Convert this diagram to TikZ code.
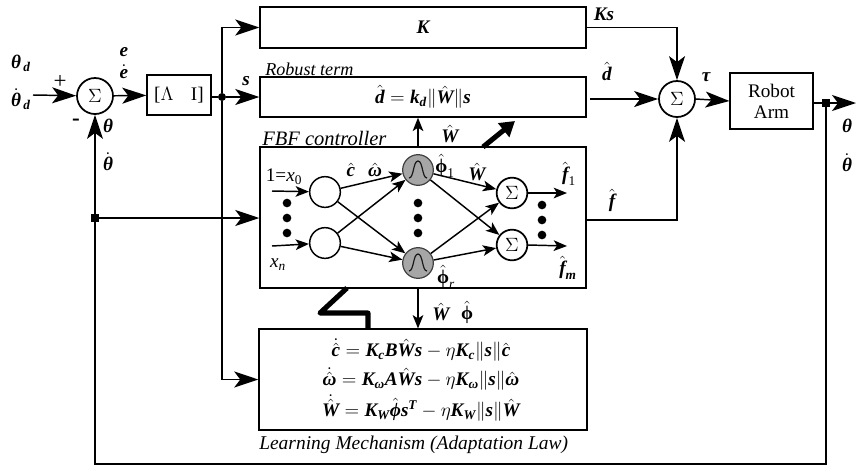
\documentclass[tikz,border=0pt]{standalone}
\usepackage{amsmath,amssymb}
\usepackage[no-math]{fontspec}
\setmainfont{Liberation Serif}
\usepackage{tikz}
\usetikzlibrary{arrows.meta,positioning,calc}
\newcommand{\bv}[1]{\text{\bfseries\itshape #1}}
\newcommand{\iv}[1]{\text{\itshape #1}}
\newcommand{\bu}[1]{\text{\bfseries #1}}

\begin{document}
\begin{tikzpicture}[x=0.75pt, y=-0.75pt, every node/.style={font=\Large}]
  \tikzstyle{block} = [rectangle, draw=black, line width=1.1pt, inner sep=0pt, align=center]
  \tikzstyle{arrow} = [-{Stealth[length=18pt,width=12pt,inset=4.5pt]}, line width=1.1pt]
  \tikzstyle{narrow} = [-{Stealth[length=10pt,width=8pt,inset=2.5pt]}, line width=1.1pt]
  \tikzstyle{wire} = [line width=1.1pt]
  \tikzstyle{bigline} = [line width=3.8pt, line join=round]
  \tikzstyle{summer} = [circle, draw=black, line width=1.3pt, minimum size=27pt, inner sep=0pt]
  \tikzstyle{neuron} = [circle, draw=black, line width=1.1pt, minimum size=23pt, inner sep=0pt]
  \tikzstyle{basis} = [circle, draw=gray!50!black, fill=gray!70, line width=0.9pt, minimum size=23pt, inner sep=0pt]
  \tikzstyle{dotnode} = [circle, fill=black, minimum size=6.5pt, inner sep=0pt]
  \tikzstyle{junction} = [rectangle, fill=black, minimum size=5.5pt, inner sep=0pt]
  \tikzstyle{tag} = [inner sep=0pt]
  \useasboundingbox (0,0) rectangle (856,469);

  % main blocks
  \node[summer] (sumerr) at (95,96) {$\Sigma$};
  \node[block, minimum width=48pt, minimum height=30pt] (lambda) at (179,95) {[$\Lambda$\hspace{0.9em}I]};
  \node[block, minimum width=244.5pt, minimum height=30.5pt] (gain) at (423,27.5) {$\bv{K}$};
  \node[block, minimum width=244.5pt, minimum height=30pt] (robust) at (423,97) {$\hat{\bv{d}} = \bv{k}_{\bv{d}}\|\hat{\bv{W}}\|\bv{s}$};
  \node[block, minimum width=244.5pt, minimum height=105.5pt] (fbf) at (423,217.5) {};
  \node[block, minimum width=246pt, minimum height=75.5pt] (learn) at (423,379.5) {};
  \node[summer] (sumout) at (677,99) {$\Sigma$};
  \node[block, minimum width=62pt, minimum height=42pt] (robot) at (771.5,101) {Robot\\[-2pt]Arm};

  % equations of the learning box
  \node[tag] (eqc) at (421,350) {$\dot{\hat{\bv{c}}} = \bv{K}_{\bv{c}}\bv{B}\hat{\bv{W}}\bv{s} - \eta\bv{K}_{\bv{c}}\|\bv{s}\|\hat{\bv{c}}$};
  \node[tag] (eqw) at (421,379) {$\dot{\hat{\bv{ω}}} = \bv{K}_{\bv{ω}}\bv{A}\hat{\bv{W}}\bv{s} - \eta\bv{K}_{\bv{ω}}\|\bv{s}\|\hat{\bv{ω}}$};
  \node[tag] (eqv) at (421,408) {$\dot{\hat{\bv{W}}} = \bv{K}_{\bv{W}}\hat{\bv{ϕ}}\bv{s}^{\bv{T}} - \eta\bv{K}_{\bv{W}}\|\bv{s}\|\hat{\bv{W}}$};

  % network
  \node[neuron] (inone) at (325,192) {};
  \node[neuron] (intwo) at (325,243) {};
  \node[basis] (phione) at (418,170) {};
  \node[basis] (phitwo) at (418,263) {};
  \node[summer, minimum size=23pt] (sumone) at (512,193) {$\Sigma$};
  \node[summer, minimum size=23pt] (sumtwo) at (512,245) {$\Sigma$};
  \foreach \nd in {phione,phitwo}
    \draw[line width=0.9pt, gray!20!black] ($(\nd)+(-9,8)$) .. controls ($(\nd)+(-4,8)$) and ($(\nd)+(-5,-9)$) .. ($(\nd)+(0,-9)$)
      .. controls ($(\nd)+(5,-9)$) and ($(\nd)+(4,8)$) .. ($(\nd)+(9,8)$);
  \foreach \i/\yy in {1/203,2/218,3/233} {
    \node[dotnode] (dotl\i) at (287,\yy) {};
    \node[dotnode] (dotm\i) at (418,\yy) {};
    \node[dotnode] (dotr\i) at (542,\yy+2) {};
  }
  \coordinate (xzero) at (272,191);
  \coordinate (xlast) at (272,246);
  \coordinate (outone) at (567,193);
  \coordinate (outtwo) at (567,246);
  \draw[narrow] (xzero) -- (inone);
  \draw[narrow] (xlast) -- (intwo);
  \foreach \a in {inone,intwo} \foreach \b in {phione,phitwo}
    \draw[narrow] (\a) -- (\b);
  \foreach \a in {phione,phitwo} \foreach \b in {sumone,sumtwo}
    \draw[narrow] (\a) -- (\b);
  \draw[narrow] (sumone) -- (outone);
  \draw[narrow] (sumtwo.east) -- (outtwo);

  % signals
  \coordinate (thstart) at (33,95);
  \coordinate (dstart) at (590,99);
  \coordinate (plantout) at (856,103);
  \coordinate (fbcorner) at (826,464);
  \node[junction, circle, minimum size=6pt] (jcts) at (222,97) {};
  \node[junction] (jctout) at (826,103) {};
  \node[junction] (jctfb) at (95,218) {};
  \coordinate (bigup) at (515,121);
  \coordinate (bigst) at (483,147);
  \coordinate (zigtop) at (347,288);
  \coordinate (zigleft) at (320,313);
  \coordinate (zigright) at (368,313);

  \draw[arrow] (thstart) -- (sumerr);
  \draw[arrow] (sumerr) -- (lambda);
  \draw[wire] (lambda.east |- jcts) -- (jcts);
  \draw[arrow] (jcts) -- (robust.west |- jcts);
  \draw[arrow] (jcts) |- (gain.west);
  \draw[arrow] (jcts) |- (learn.west);
  \draw[arrow] (jctfb) -- (fbf.west |- jctfb);
  \draw[arrow] (gain.east) -| (sumout.north);
  \draw[arrow] (dstart) -- (sumout.west);
  \draw[arrow] (fbf.east |- 0,220) -| (sumout.south);
  \draw[arrow] (sumout.east) -- (robot.west);
  \draw[wire] (robot.east |- jctout) -- (jctout);
  \draw[arrow] (jctout) -- (plantout);
  \draw[arrow] (jctout) -- (fbcorner) -| (sumerr.south);
  \draw[narrow] (phione |- fbf.north) -- (phione |- robust.south);
  \draw[narrow] (phitwo |- fbf.south) -- (phitwo |- learn.north);
  \draw[bigline, -{Triangle[length=11pt,width=13pt]}] (bigst) -- (bigup);
  \draw[bigline] (zigtop) -- (zigleft) -- (zigright) -- (zigright |- learn.north);

  % labels
  \node[tag] (lthd) at (21,63) {$\bv{θ}_{\,\bv{d}}$};
  \node[tag] (ldthd) at (21,99) {$\dot{\bv{θ}}_{\,\bv{d}}$};
  \node[tag] (lplus) at (60,82) {\LARGE +};
  \node[tag] (lminus) at (76,122) {\LARGE\bfseries -};
  \node[tag] (le) at (124,52) {$\bv{e}$};
  \node[tag] (lde) at (124,72) {$\dot{\bv{e}}$};
  \node[tag] (lth) at (108,126) {$\bv{θ}$};
  \node[tag] (ldth) at (108,162) {$\dot{\bv{θ}}$};
  \node[tag] (ls) at (246,81) {$\bv{s}$};
  \node[tag] (lks) at (604,14) {$\bv{Ks}$};
  \node[tag] (ldh) at (607,71) {$\hat{\bv{d}}$};
  \node[tag] (ltau) at (706,77) {$\bv{τ}$};
  \node[tag] (lfh) at (612,200) {$\hat{\bv{f}}$};
  \node[tag] (lthout) at (847,126) {$\bv{θ}$};
  \node[tag] (ldthout) at (847,163) {$\dot{\bv{θ}}$};
  \node[tag, anchor=base west] (lrobust) at (265,75) {\fontsize{13.6}{15}\selectfont\textit{Robust term}};
  \node[tag, anchor=base west] (lfbf) at (262,145) {\fontsize{15.4}{17}\selectfont\textit{FBF controller}};
  \node[tag, anchor=base west] (llearn) at (259,449) {\fontsize{14.6}{16}\selectfont\textit{Learning Mechanism (Adaptation Law)}};
  \node[tag] (lwup) at (450,134) {$\hat{\bv{W}}$};
  \node[tag] (lx) at (284,177) {1=$\iv{x}_{\text{0}}$};
  \node[tag] (lxn) at (278,265) {$\iv{x}_{\iv{n}}$};
  \node[tag] (lc) at (351,170) {$\hat{\bv{c}}$};
  \node[tag] (lw) at (375,170) {$\hat{\bv{ω}}$};
  \node[tag] (lphia) at (445,166) {$\hat{\bu{ϕ}}_{\text{1}}$};
  \node[tag] (lwmid) at (477,172) {$\hat{\bv{W}}$};
  \node[tag] (lphib) at (446,277) {$\hat{\bu{ϕ}}_{\iv{r}}$};
  \node[tag] (lfa) at (569,174) {$\hat{\bv{f}}_{\text{1}}$};
  \node[tag] (lfb) at (568,268) {$\hat{\bv{f}}_{\bv{m}}$};
  \node[tag] (lwdn) at (441,312) {$\hat{\bv{W}}$};
  \node[tag] (lphid) at (467,312) {$\hat{\bu{ϕ}}$};
\end{tikzpicture}
\end{document}
